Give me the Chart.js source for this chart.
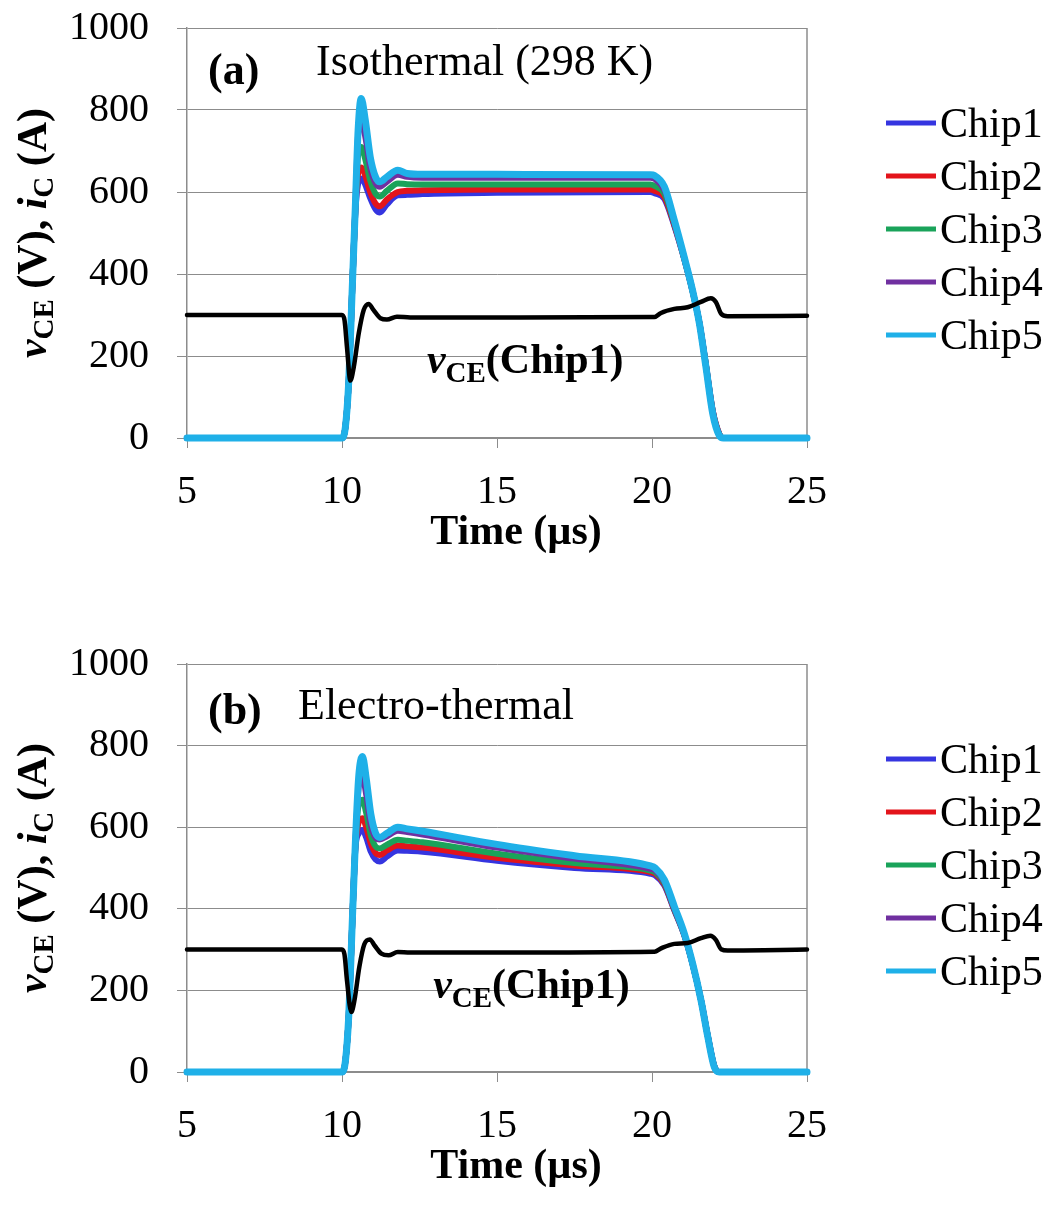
<!DOCTYPE html>
<html>
<head>
<meta charset="utf-8">
<title>Chip currents</title>
<script src="https://cdn.jsdelivr.net/npm/chart.js@4.4.1/dist/chart.umd.min.js"></script>
<style>
  body { margin: 0; background: #fff; }
  #wrap { position: relative; width: 1059px; height: 1210px; }
  #top { position: absolute; left: 0; top: 0; }
  #bottom { position: absolute; left: 0; top: 636px; }
</style>
</head>
<body>
<div id="wrap">
  <canvas id="top" width="1059" height="620"></canvas>
  <canvas id="bottom" width="1059" height="574"></canvas>
</div>
<script>
// axis ticks
var timeTicks = [5, 10, 15, 20, 25];
var valueTicks = [0, 200, 400, 600, 800, 1000];
var chipNames = ['Chip1', 'Chip2', 'Chip3', 'Chip4', 'Chip5'];

// (a) isothermal, collector currents (A)
var isoTime = [5, 10.0, 10.11, 10.22, 10.32, 10.43, 10.52, 10.62, 10.75, 10.91, 11.08, 11.22, 11.45, 11.8, 12.1, 12.6, 15, 19.95, 20.08, 20.4, 20.72, 21.04, 21.31, 21.53, 21.74, 21.96, 22.17, 22.3, 25];
var isoChip1 = [0, 0, 27, 141, 344, 550, 620, 633, 618, 585, 558, 550, 570, 592, 593, 595, 598, 600, 597, 583, 517, 436, 357, 281, 178, 66, 10, 0, 0];
var isoChip2 = [0, 0, 27, 141, 344, 555, 645, 660, 640, 600, 572, 565, 582, 600, 603, 604, 606, 606, 603, 588, 520, 437, 358, 281, 178, 66, 10, 0, 0];
var isoChip3 = [0, 0, 27, 141, 344, 560, 690, 710, 680, 628, 596, 589, 603, 621, 619, 618, 618, 618, 615, 596, 524, 438, 358, 280, 177, 64, 9, 0, 0];
var isoChip4 = [0, 0, 27, 141, 344, 564, 740, 775, 735, 660, 622, 613, 625, 642, 637, 635, 635, 635, 632, 605, 528, 440, 360, 280, 176, 62, 8, 0, 0];
var isoChip5 = [0, 0, 27, 141, 344, 564, 751, 828, 776, 686, 637, 625, 637, 653, 645, 643, 643, 642, 640, 613, 531, 441, 360, 279, 173, 59, 6, 0, 0];
// (a) vCE of Chip1 (V)
var isoVceTime = [5, 10.0, 10.08, 10.16, 10.27, 10.38, 10.54, 10.7, 10.86, 11.02, 11.24, 11.45, 11.77, 12.2, 15, 20.08, 20.29, 20.72, 21.15, 21.58, 21.9, 22.06, 22.23, 22.44, 25];
var isoVce = [300, 300, 288, 222, 140, 173, 255, 312, 327, 312, 292, 289, 296, 294, 294, 295, 305, 315, 319, 332, 341, 332, 303, 297, 298];

// (b) electro-thermal, collector currents (A)
var etTime = [5, 10.0, 10.11, 10.22, 10.32, 10.43, 10.54, 10.66, 10.78, 10.93, 11.08, 11.22, 11.45, 11.8, 12.1, 12.6, 15, 17.5, 19.95, 20.1, 20.4, 20.72, 21.04, 21.31, 21.58, 21.8, 22.01, 22.17, 25];
var etChip1 = [0, 0, 27, 141, 344, 545, 585, 593, 575, 540, 521, 516, 528, 543, 542, 540, 518, 500, 486, 482, 457, 396, 335, 264, 177, 89, 15, 0, 0];
var etChip2 = [0, 0, 27, 141, 344, 550, 612, 622, 600, 560, 537, 532, 543, 555, 553, 550, 525, 506, 490, 486, 460, 398, 336, 265, 177, 88, 14, 0, 0];
var etChip3 = [0, 0, 27, 141, 344, 555, 655, 667, 635, 580, 553, 548, 557, 569, 567, 563, 535, 512, 494, 490, 463, 400, 337, 265, 177, 88, 14, 0, 0];
var etChip4 = [0, 0, 27, 141, 344, 558, 700, 724, 680, 605, 575, 570, 578, 591, 588, 582, 550, 523, 498, 494, 466, 402, 338, 265, 176, 87, 13, 0, 0];
var etChip5 = [0, 0, 27, 141, 344, 560, 725, 773, 720, 632, 586, 575, 585, 600, 596, 590, 558, 530, 505, 500, 471, 406, 340, 266, 176, 86, 12, 0, 0];
// (b) vCE of Chip1 (V)
var etVceTime = [5, 10.0, 10.08, 10.16, 10.3, 10.4, 10.56, 10.72, 10.9, 11.05, 11.27, 11.5, 11.8, 12.2, 15, 20.08, 20.29, 20.72, 21.15, 21.58, 21.88, 22.06, 22.23, 22.44, 25];
var etVce = [300, 300, 288, 225, 147, 175, 258, 313, 325, 310, 290, 286, 294, 293, 293, 295, 303, 314, 316, 328, 334, 324, 301, 298, 300];

var chipColors = ['#3535e0', '#e3141b', '#1aa35a', '#7030a0', '#1fb0e8'];
var serif = '"Liberation Serif", "Times New Roman", serif';
var gridGray = '#8c8c8c';

function pairs(xs, ys) {
  var out = [];
  for (var i = 0; i < xs.length; i++) {
    out.push({ x: xs[i], y: ys[i] });
  }
  return out;
}

function partsWidth(ctx, parts) {
  var w = 0;
  for (var i = 0; i < parts.length; i++) {
    ctx.font = parts[i].font;
    w += ctx.measureText(parts[i].text).width;
  }
  return w;
}

function drawParts(ctx, x, y, parts) {
  for (var i = 0; i < parts.length; i++) {
    var p = parts[i];
    ctx.font = p.font;
    ctx.fillText(p.text, x, y + (p.dy || 0));
    x += ctx.measureText(p.text).width;
  }
}

var decorPlugin = {
  id: 'decor',
  beforeDatasetsDraw: function(chart) {
    var ctx = chart.ctx;
    var area = chart.chartArea;
    ctx.save();
    ctx.strokeStyle = gridGray;
    ctx.lineWidth = 1.5;
    ctx.beginPath();
    ctx.moveTo(area.right, area.top);
    ctx.lineTo(area.right, area.bottom);
    ctx.stroke();
    ctx.restore();
  },
  afterDraw: function(chart, args, opts) {
    var ctx = chart.ctx;
    var area = chart.chartArea;
    var xs = chart.scales.x;
    var ys = chart.scales.y;
    ctx.save();
    ctx.fillStyle = '#000';
    ctx.textAlign = 'left';
    ctx.textBaseline = 'alphabetic';

    // panel label and title
    ctx.font = 'bold 44px ' + serif;
    ctx.fillText(opts.panel, 208, area.top + opts.panelDy);
    ctx.font = '44px ' + serif;
    ctx.fillText(opts.title, opts.titleX, area.top + opts.titleDy);

    // vCE(Chip1) note
    drawParts(ctx, xs.getPixelForValue(opts.noteT), ys.getPixelForValue(opts.noteV), [
      { text: 'v', font: 'italic bold 42px ' + serif },
      { text: 'CE', font: 'bold 29px ' + serif, dy: 9 },
      { text: '(Chip1)', font: 'bold 42px ' + serif }
    ]);

    // x title
    ctx.font = 'bold 42px ' + serif;
    ctx.textAlign = 'center';
    ctx.fillText('Time (\u00b5s)', 516, area.bottom + 106);
    ctx.textAlign = 'left';

    // y title
    var yParts = [
      { text: 'v', font: 'italic bold 42px ' + serif },
      { text: 'CE', font: 'bold 29px ' + serif, dy: 7 },
      { text: ' (V), ', font: 'bold 42px ' + serif },
      { text: 'i', font: 'italic bold 42px ' + serif },
      { text: 'C', font: 'bold 29px ' + serif, dy: 7 },
      { text: ' (A)', font: 'bold 42px ' + serif }
    ];
    ctx.save();
    ctx.translate(34, (area.top + area.bottom) / 2);
    ctx.rotate(-Math.PI / 2);
    drawParts(ctx, -partsWidth(ctx, yParts) / 2, 12, yParts);
    ctx.restore();

    // legend
    for (var i = 0; i < chipNames.length; i++) {
      var ly = area.top + 95 + i * 53;
      ctx.strokeStyle = chipColors[i];
      ctx.lineWidth = 5;
      ctx.beginPath();
      ctx.moveTo(886, ly);
      ctx.lineTo(936, ly);
      ctx.stroke();
      ctx.font = '42px ' + serif;
      ctx.fillText(chipNames[i], 940, ly + 14);
    }
    ctx.restore();
  }
};

function makeChart(canvasId, time, chips, vceTime, vce, axisHeight, deco) {
  var datasets = [{
    label: 'vCE(Chip1)',
    data: pairs(vceTime, vce),
    borderColor: '#000',
    borderWidth: 4.5,
    order: 0
  }];
  for (var i = 0; i < chips.length; i++) {
    datasets.push({
      label: chipNames[i],
      data: pairs(time, chips[i]),
      borderColor: chipColors[i],
      borderWidth: i == 4 ? 7 : 6,
      order: 5 - i
    });
  }

  return new Chart(document.getElementById(canvasId), {
    type: 'line',
    data: { datasets: datasets },
    options: {
      responsive: false,
      animation: false,
      layout: { padding: { left: 0, right: 252, top: 28, bottom: 0 } },
      elements: {
        point: { radius: 0 },
        line: { cubicInterpolationMode: 'monotone', borderCapStyle: 'round', borderJoinStyle: 'round' }
      },
      datasets: { line: { clip: false } },
      plugins: {
        legend: { display: false },
        tooltip: { enabled: false },
        decor: deco
      },
      scales: {
        x: {
          type: 'linear',
          min: 5,
          max: 25,
          afterBuildTicks: function(s) { s.ticks = timeTicks.map(function(v) { return { value: v }; }); },
          afterFit: function(s) {
            s.height = axisHeight;
            s.paddingLeft = 0;
            s.paddingRight = 0;
          },
          ticks: {
            color: '#000', padding: 20, maxRotation: 0,
            font: { family: serif, size: 40 },
            callback: function(v) { return String(v); }
          },
          grid: { drawOnChartArea: false, drawTicks: true, tickLength: 10, color: gridGray },
          border: { color: gridGray, width: 1.5 }
        },
        y: {
          min: 0,
          max: 1000,
          afterBuildTicks: function(s) { s.ticks = valueTicks.map(function(v) { return { value: v }; }); },
          afterFit: function(s) {
            s.width = 187;
            s.paddingTop = 0;
            s.paddingBottom = 0;
          },
          ticks: {
            color: '#000', padding: 28,
            font: { family: serif, size: 40 },
            callback: function(v) { return String(v); }
          },
          grid: { color: gridGray, lineWidth: 1, tickLength: 10 },
          border: { color: gridGray, width: 1.5 }
        }
      }
    },
    plugins: [decorPlugin]
  });
}

makeChart('top', isoTime, [isoChip1, isoChip2, isoChip3, isoChip4, isoChip5], isoVceTime, isoVce, 182, {
  panel: '(a)', panelDy: 56,
  title: 'Isothermal (298 K)', titleX: 316, titleDy: 47,
  noteT: 12.74, noteV: 158
});

makeChart('bottom', etTime, [etChip1, etChip2, etChip3, etChip4, etChip5], etVceTime, etVce, 138, {
  panel: '(b)', panelDy: 60,
  title: 'Electro-thermal', titleX: 298, titleDy: 55,
  noteT: 12.94, noteV: 181
});
</script>
</body>
</html>
